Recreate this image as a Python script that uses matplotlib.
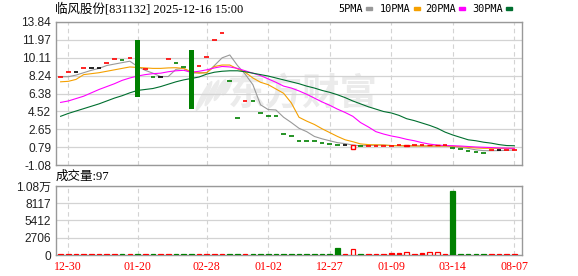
import matplotlib
matplotlib.use("Agg")
import matplotlib.pyplot as plt
from matplotlib.patches import Rectangle, Ellipse
from matplotlib.transforms import IdentityTransform
import numpy as np

## chart data
title = "临风股份[831132] 2025-12-16 15:00"
vol_title = "成交量:97"

tick_dates = ["12-30", "01-20", "02-28", "01-02", "12-27", "01-09", "03-14", "08-07"]
tick_idx = [1, 10, 19, 27, 35, 43, 51, 59]

opens = [8.07, 8.62, 8.62, 9.00, 9.00, 9.00, 9.55, 9.95, 9.92, 10.05,
         11.96, 8.94, 8.07, 8.07, 10.00, 9.53, 9.18, 10.92, 9.22, 10.15,
         11.96, 12.66, 7.67, 3.79, 5.60, 5.55, 4.31, 4.07, 4.04, 2.13,
         1.95, 1.46, 1.39, 1.38, 1.25, 1.08, 1.01, 1.01, 0.56, 0.90,
         0.92, 0.93, 0.94, 0.95, 0.96, 0.95, 0.99, 1.00, 0.99, 1.01,
         1.05, 0.69, 0.56, 0.41, 0.25, 0.14, 0.45, 0.45, 0.47, 0.49]
closes = [8.07, 8.62, 8.62, 9.00, 9.00, 9.00, 9.55, 9.95, 9.92, 10.05,
          6.05, 8.94, 8.07, 8.07, 10.00, 9.53, 9.18, 4.73, 9.22, 10.15,
          11.96, 12.66, 7.67, 3.79, 5.60, 5.55, 4.31, 4.07, 4.04, 2.13,
          1.95, 1.46, 1.39, 1.38, 1.25, 1.08, 1.01, 1.01, 1.01, 0.90,
          0.92, 0.93, 0.94, 0.95, 0.96, 0.98, 0.99, 1.00, 1.02, 1.04,
          1.05, 0.69, 0.56, 0.41, 0.25, 0.14, 0.45, 0.45, 0.47, 0.49]
volumes = [150, 150, 150, 150, 150, 150, 150, 150, 150, 150,
           150, 150, 150, 150, 150, 150, 150, 150, 150, 150,
           150, 150, 150, 150, 150, 150, 150, 150, 150, 150,
           150, 150, 150, 150, 150, 150, 1150, 150, 900, 150,
           150, 150, 150, 380, 380, 480, 200, 380, 480, 480,
           150, 10040, 150, 150, 150, 150, 150, 150, 150, 97]

ma5 = [8.13, 8.13, 8.30, 8.55, 8.80, 9.00, 9.30, 9.45, 9.60, 9.75,
       9.20, 8.80, 8.50, 8.15, 8.15, 8.90, 9.00, 8.50, 8.55, 8.55,
       9.30, 10.10, 10.40, 9.30, 8.40, 7.30, 5.20, 4.70, 4.66, 3.90,
       3.35, 2.75, 2.40, 1.90, 1.65, 1.45, 1.25, 1.15, 1.00, 0.92,
       0.95, 1.00, 1.00, 0.95, 0.93, 0.92, 0.91, 0.90, 0.90, 0.90,
       0.90, 0.85, 0.75, 0.65, 0.50, 0.42, 0.41, 0.42, 0.45, 0.49]
ma10 = [7.60, 7.65, 7.85, 8.35, 8.45, 8.55, 8.70, 8.85, 9.00, 9.15,
        9.10, 9.05, 9.00, 9.00, 9.05, 9.07, 9.00, 8.65, 8.50, 8.55,
        9.20, 9.35, 9.35, 8.95, 8.60, 8.00, 7.55, 7.30, 6.85, 6.40,
        5.40, 3.90, 3.50, 3.15, 2.70, 2.30, 1.90, 1.55, 1.35, 1.12,
        1.05, 1.02, 1.00, 0.95, 0.93, 0.92, 0.91, 0.90, 0.90, 0.90,
        0.90, 0.88, 0.82, 0.76, 0.70, 0.66, 0.66, 0.66, 0.66, 0.66]
ma20 = [5.45, 5.60, 5.85, 6.10, 6.45, 6.80, 7.10, 7.40, 7.75, 8.00,
        8.20, 8.35, 8.45, 8.50, 8.65, 8.75, 8.80, 8.60, 8.70, 8.85,
        9.05, 9.20, 9.15, 9.00, 8.75, 8.50, 8.25, 7.90, 7.55, 7.15,
        6.95, 6.65, 6.30, 5.90, 5.50, 5.15, 4.75, 4.40, 4.00, 3.35,
        2.90, 2.40, 2.15, 1.95, 1.80, 1.60, 1.45, 1.25, 1.10, 1.00,
        0.95, 0.93, 0.90, 0.85, 0.80, 0.77, 0.74, 0.70, 0.68, 0.66]
ma30 = [4.00, 4.30, 4.55, 4.80, 5.05, 5.30, 5.60, 5.90, 6.15, 6.45,
        6.70, 6.80, 6.90, 7.10, 7.35, 7.60, 7.80, 7.95, 8.10, 8.40,
        8.60, 8.70, 8.75, 8.75, 8.65, 8.50, 8.35, 8.20, 8.00, 7.80,
        7.60, 7.40, 7.15, 6.95, 6.70, 6.50, 6.25, 5.95, 5.60, 5.30,
        5.00, 4.75, 4.50, 4.35, 4.10, 3.75, 3.55, 3.30, 3.05, 2.75,
        2.35, 2.05, 1.80, 1.55, 1.45, 1.30, 1.20, 1.05, 0.95, 0.93]

price_ticks = [-1.08, 0.79, 2.65, 4.52, 6.38, 8.24, 10.11, 11.97, 13.84]
vol_ticks = [0, 2706, 5412, 8117, 10823]
vol_labels = ["0", "2706", "5412", "8117", "1.08万"]

ma_names = ["5PMA", "10PMA", "20PMA", "30PMA"]
ma_colors = ["#999999", "#f5a000", "#ff00ff", "#006f2f"]

RED = "#ff0000"
GREEN = "#008000"
GRID = "#d3d3d3"
FRAME = "#999999"
cjk = ["Liberation Serif", "Noto Sans CJK SC"]
num = ["Liberation Sans", "Noto Sans CJK SC"]

W, H = 578, 276
fig = plt.figure(figsize=(W / 100, H / 100), dpi=100)
ax = fig.add_axes([56 / W, 1 - 165 / H, 466 / W, 143 / H])
axv = fig.add_axes([56 / W, 1 - 255 / H, 466 / W, 69 / H])

n = len(closes)
x = np.arange(n)

## candle colours from the data
kind = []
for i in range(n):
    if closes[i] > opens[i]:
        kind.append("up")
    elif closes[i] < opens[i]:
        kind.append("down")
    else:
        prev = closes[i - 1] if i > 0 else opens[i] - 1
        kind.append("up" if closes[i] > prev else ("down" if closes[i] < prev else "flat"))

for a in (ax, axv):
    a.set_xlim(-0.6, 60.0)
    for s in a.spines.values():
        s.set_color(FRAME)
        s.set_linewidth(1)
    for t in tick_idx:
        a.axvline(t, color=GRID, lw=0.8, ls=(0, (4, 3)), zorder=0)
    a.tick_params(length=0, labelsize=8.6, colors="#222222")

## watermark (logo + text)
for cx, cy, hh in [(204, 96, 34), (212, 93, 30), (220, 90, 25), (227, 87, 19)]:
    ax.add_patch(Ellipse((cx, H - cy), 6, hh, angle=-28, transform=IdentityTransform(),
                         color="#ebebeb", lw=0, zorder=0))
ax.text(0.53, 0.5, "东方财富", transform=ax.transAxes, fontsize=27, fontweight="bold",
        color="#ebebeb", ha="center", va="center", family="Noto Sans CJK SC", zorder=0)

## main price panel
ax.set_ylim(price_ticks[0], price_ticks[-1])
ax.set_yticks(price_ticks)
ax.set_yticklabels(["%.2f" % v for v in price_ticks], family=num)
for v in price_ticks:
    ax.axhline(v, color=GRID, lw=0.9, zorder=0)
ax.set_xticks([])

for vals, c in zip([ma5, ma10, ma20, ma30], ma_colors):
    ax.plot(x, vals, color=c, lw=0.8, zorder=2)

w = 0.6
for i in range(n):
    o, c = opens[i], closes[i]
    if o == c:
        col = {"up": RED, "down": GREEN, "flat": "black"}[kind[i]]
        ax.hlines(c, i - w / 2, i + w / 2, color=col, lw=1.2, zorder=3)
    elif c > o:
        ax.bar(i, c - o, bottom=o, width=w, facecolor="white", edgecolor=RED, lw=1, zorder=3)
    else:
        ax.bar(i, o - c, bottom=c, width=w, color=GREEN, lw=0, zorder=3)

## volume panel
axv.set_ylim(0, vol_ticks[-1])
axv.set_yticks(vol_ticks)
axv.set_yticklabels(vol_labels, family=num)
for v in vol_ticks:
    axv.axhline(v, color=GRID, lw=0.9, zorder=0)
axv.set_xticks(tick_idx)
axv.set_xticklabels(tick_dates, color=RED, family="Liberation Serif", fontsize=8.6)
axv.tick_params(axis="x", pad=4)

for i in range(n):
    col = GREEN if kind[i] == "down" else RED
    hollow = closes[i] > opens[i]
    axv.bar(i, volumes[i], width=w, facecolor="white" if hollow else col,
            edgecolor=col, lw=0.9, zorder=3)

## header texts
fig.text(55 / W, 1 - 9 / H, title, fontsize=9, family=cjk, va="center", ha="left")
fig.text(56 / W, 1 - 177 / H, vol_title, fontsize=9, family=cjk, va="center", ha="left")

leg_x = [338, 380, 425, 472]
for name, c, lx in zip(ma_names, ma_colors, leg_x):
    t = fig.text(lx / W, 1 - 9 / H, name, fontsize=7.4, family="DejaVu Sans Mono",
                 va="center", ha="left")
    fig.canvas.draw()
    bb = t.get_window_extent()
    fig.add_artist(Rectangle(((bb.x1 + 3) / W, 1 - 10 / H), 6 / W, 2.5 / H,
                             transform=fig.transFigure, color=c))

fig.savefig("out.png", dpi=100)
